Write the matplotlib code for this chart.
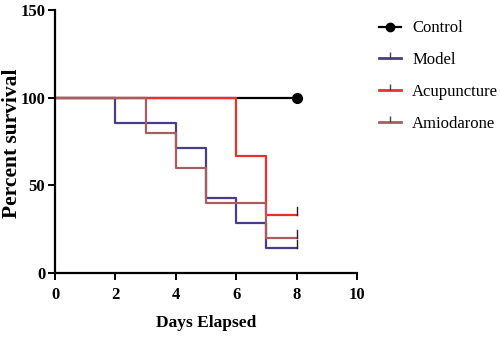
#Survival curves by treatment group

import matplotlib
matplotlib.use('Agg')
import matplotlib.pyplot as plt

#Data
days_control = [0, 8]
surv_control = [100, 100]

days_model = [0, 2, 4, 5, 6, 7, 8]
surv_model = [100, 85.7, 71.4, 42.9, 28.6, 14.3, 14.3]

days_acu = [0, 6, 7, 8]
surv_acu = [100, 66.7, 33.3, 33.3]

days_amio = [0, 3, 4, 5, 7, 8]
surv_amio = [100, 80, 60, 40, 20, 20]

x_ticks = [0, 2, 4, 6, 8, 10]
y_ticks = [0, 50, 100, 150]

plt.rcParams['font.family'] = ['Liberation Serif', 'DejaVu Serif']

fig = plt.figure(figsize=(5, 3.39), dpi=100)
ax = fig.add_axes([0.11, 0.195, 0.604, 0.775])

#Control line with end marker
ax.plot(days_control, surv_control, color='black', lw=1.6, drawstyle='steps-post', label='Control')
ax.plot([days_control[-1]], [surv_control[-1]], 'o', color='black', ms=7)

#Other groups with censored tick at the end
groups = [
    (days_model, surv_model, '#4B3C86', 'Model'),
    (days_acu, surv_acu, '#E8302C', 'Acupuncture'),
    (days_amio, surv_amio, '#A65E5E', 'Amiodarone'),
]
for days, surv, color, name in groups:
    ax.plot(days, surv, color=color, lw=1.6, drawstyle='steps-post', label=name)
    ax.plot([days[-1], days[-1]], [surv[-1], surv[-1] + 4.5], color='#222222', lw=1.0)

#Legend handles (tick up marks like the censor ticks)
handles = [
    plt.Line2D([], [], color='black', lw=1.6, marker='o', ms=6),
    plt.Line2D([], [], color='#4B3C86', lw=2, marker=2, mec='#444444', ms=4),
    plt.Line2D([], [], color='#E8302C', lw=2, marker=2, mec='#444444', ms=4),
    plt.Line2D([], [], color='#A65E5E', lw=2, marker=2, mec='#444444', ms=4),
]
fig.legend(handles, ['Control', 'Model', 'Acupuncture', 'Amiodarone'],
           loc='upper left', bbox_to_anchor=(0.728, 0.984), frameon=False,
           fontsize=12, labelspacing=0.95, handlelength=1.3, handletextpad=0.7)

ax.set_xlim(0, 10)
ax.set_ylim(0, 150)
ax.set_xticks(x_ticks)
ax.set_yticks(y_ticks)
ax.spines['top'].set_visible(False)
ax.spines['right'].set_visible(False)
ax.spines['left'].set_linewidth(1.6)
ax.spines['bottom'].set_linewidth(1.6)
ax.tick_params(direction='out', length=5, width=1.4, labelsize=12, pad=2)
ax.tick_params(axis='x', pad=5)
for lab in ax.get_xticklabels() + ax.get_yticklabels():
    lab.set_fontweight('bold')

ax.set_xlabel('Days Elapsed', fontsize=12.5, fontweight='bold')
ax.set_ylabel('Percent survival', fontsize=15.5, fontweight='bold')
ax.xaxis.set_label_coords(0.5, -0.16)
ax.yaxis.set_label_coords(-0.11, 0.494)

plt.savefig('out.png', dpi=100)
